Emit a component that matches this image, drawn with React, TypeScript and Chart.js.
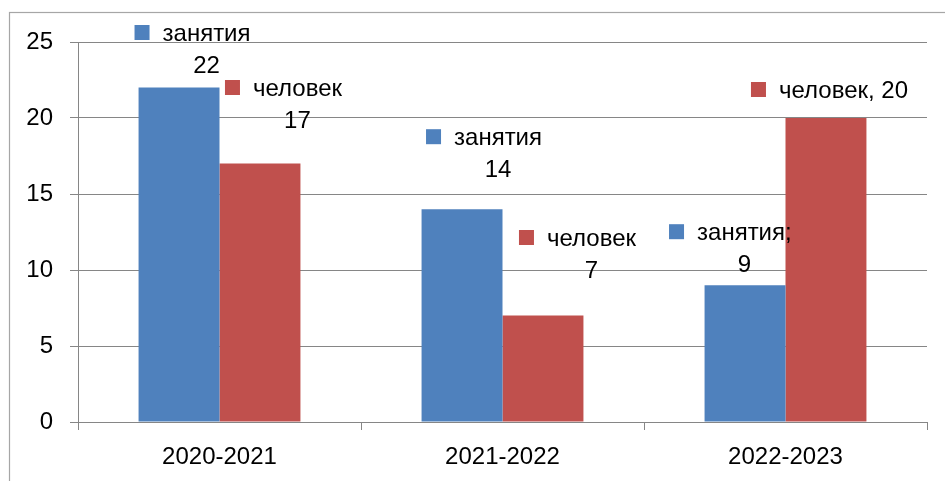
import React, { useEffect, useRef } from "react";
import { Chart, registerables } from "chart.js";

Chart.register(...registerables);

const categories = ["2020-2021", "2021-2022", "2022-2023"];
const seriesNames = ["занятия", "человек"];
const lessons = [22, 14, 9];
const people = [17, 7, 20];
const yTicks = [0, 5, 10, 15, 20, 25];
// separator between series name and value for each label [series][point]
const separators = [
  ["\n", "\n", ";\n"],
  ["\n", "\n", ", "],
];
// label key offset relative to bar top centre [series][point] -> [dx, dy]
const labelOffsets = [
  [[-44.5, -62.6], [-36, -80], [-76, -61]],
  [[-35, -83.6], [-24, -85.6], [-75, -36]],
];

const BLUE = "#4F81BD";
const RED = "#C0504D";
const GRID = "#868686";
const FONT = "'Liberation Sans', Arial, sans-serif";
const FS = 24;

const labelPlugin = {
  id: "customLabels",
  beforeDraw(chart: any) {
    const ctx = chart.ctx;
    ctx.save();
    ctx.strokeStyle = "#a6a6a6";
    ctx.lineWidth = 1.2;
    ctx.strokeRect(9.5, 12.5, 2000, 2000);
    ctx.restore();
  },
  afterDatasetsDraw(chart: any) {
    const ctx = chart.ctx;
    ctx.save();
    ctx.font = `${FS}px ${FONT}`;
    ctx.fillStyle = "#000";
    chart.data.datasets.forEach((ds: any, si: number) => {
      const meta = chart.getDatasetMeta(si);
      meta.data.forEach((el: any, i: number) => {
        const [dx, dy] = labelOffsets[si][i];
        const kx = el.x + dx;
        const ky = el.y + dy;
        ctx.fillStyle = ds.backgroundColor;
        ctx.fillRect(kx, ky, 15, 15);
        ctx.fillStyle = "#000";
        const text = ds.label + separators[si][i] + ds.data[i];
        const lines = text.split("\n");
        const tx = kx + 28;
        const nameW = ctx.measureText(lines[0]).width;
        const cx = tx + nameW / 2;
        ctx.textBaseline = "middle";
        ctx.textAlign = "left";
        ctx.fillText(lines[0], tx, ky + 9);
        if (lines[1] !== undefined) {
          ctx.textAlign = "center";
          ctx.fillText(lines[1], cx, ky + 9 + 32);
        }
      });
    });
    ctx.restore();
  },
};

export default function App() {
  const ref = useRef<HTMLCanvasElement>(null);
  useEffect(() => {
    if (!ref.current) return;
    const chart = new Chart(ref.current, {
      type: "bar",
      data: {
        labels: categories,
        datasets: [
          { label: seriesNames[0], data: lessons, backgroundColor: BLUE },
          { label: seriesNames[1], data: people, backgroundColor: RED },
        ],
      },
      options: {
        responsive: false,
        animation: false,
        events: [],
        layout: { padding: { top: 42, right: 18, left: 0, bottom: 0 } },
        plugins: { legend: { display: false }, tooltip: { enabled: false } },
        datasets: { bar: { categoryPercentage: 0.572, barPercentage: 1 } },
        scales: {
          x: {
            afterFit: (s: any) => {
              s.height = 59;
            },
            grid: {
              offset: true,
              drawOnChartArea: false,
              drawTicks: true,
              tickLength: 8,
              color: GRID,
            },
            border: { color: GRID },
            ticks: {
              color: "#000",
              font: { family: FONT, size: FS },
              padding: 13,
              maxRotation: 0,
            },
          },
          y: {
            min: 0,
            max: 25,
            afterFit: (s: any) => {
              s.width = 78;
            },
            afterBuildTicks: (s: any) => {
              s.ticks = yTicks.map((v) => ({ value: v }));
            },
            grid: { color: GRID, tickLength: 8 },
            border: { color: GRID },
            ticks: {
              color: "#000",
              font: { family: FONT, size: FS },
              padding: 17,
            },
          },
        },
      },
      plugins: [labelPlugin],
    });
    return () => chart.destroy();
  }, []);
  return (
    <div style={{ position: "absolute", left: 0, top: 0, width: 945, height: 481, background: "#fff" }}>
      <canvas ref={ref} width={945} height={481} />
    </div>
  );
}
